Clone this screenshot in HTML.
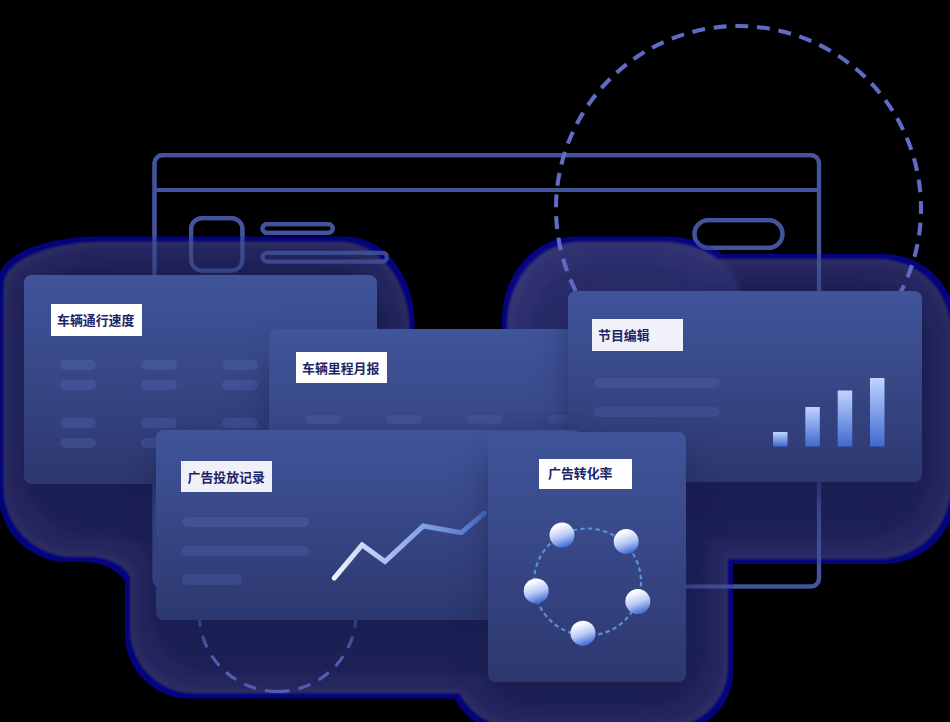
<!DOCTYPE html>
<html lang="zh"><head><meta charset="utf-8"><title>illustration</title>
<style>
html,body{margin:0;padding:0;background:#000;}
body{width:950px;height:722px;position:relative;overflow:hidden;font-family:"Liberation Sans","Noto Sans CJK SC",sans-serif;}
.abs,.card,.lab,.p,svg.layer{position:absolute;}
svg.layer{left:0;top:0;width:950px;height:722px;overflow:hidden;}
.card{border-radius:8px;background:linear-gradient(180deg,#40549a 0%,#3a4b8c 35%,#2c376e 100%);}
.lab{overflow:hidden;}
.lab svg.gl{position:absolute;left:0;top:0;}
.lab svg.gl text{font-family:"Liberation Sans","Noto Sans CJK SC",sans-serif;font-size:12.9px;font-weight:bold;fill:#1d2468;}
.p{display:block;border-radius:6px;}
</style></head><body>

<!-- browser outline -->
<svg class="layer" viewBox="0 0 950 722">
<g id="ol" fill="none" stroke="#44549a" stroke-width="4.2">
<rect x="154.5" y="155.1" width="664.5" height="431.4" rx="8"/>
<path d="M154.5 190H819"/>
<rect x="191.1" y="218.1" width="51.3" height="52.5" rx="11"/>
<rect x="262.5" y="224.1" width="70.3" height="8.8" rx="4.4"/>
<rect x="262.6" y="252.9" width="124.3" height="8.7" rx="4.35"/>
<rect x="694.5" y="220.1" width="88" height="27.7" rx="13.85"/>
</g></svg>

<!-- shadows -->
<svg class="layer" viewBox="0 0 950 722">
<defs><clipPath id="cpa"><rect x="480" y="200" width="300" height="129"/></clipPath><filter id="sb4" x="-10%" y="-10%" width="120%" height="120%"><feGaussianBlur stdDeviation="2.5"/></filter><filter id="shf" filterUnits="userSpaceOnUse" x="-60" y="-60" width="1070" height="842" color-interpolation-filters="sRGB">
<feMorphology in="SourceAlpha" operator="erode" radius="4.5" result="e1"/>
<feMorphology in="SourceAlpha" operator="erode" radius="10" result="e2"/>
<feMorphology in="SourceAlpha" operator="erode" radius="24" result="e3"/>
<feGaussianBlur in="SourceAlpha" stdDeviation="0.6" result="e0b"/>
<feGaussianBlur in="e1" stdDeviation="0.8" result="e1b"/>
<feGaussianBlur in="e2" stdDeviation="3" result="e2b"/>
<feGaussianBlur in="e3" stdDeviation="6" result="e3b"/>
<feFlood flood-color="#050586"/><feComposite in2="e0b" operator="in" result="c0"/>
<feFlood flood-color="#31316a"/><feComposite in2="e1b" operator="in" result="c1"/>
<feFlood flood-color="#292a66"/><feComposite in2="e2b" operator="in" result="c2"/>
<feFlood flood-color="#1f235b"/><feComposite in2="e3b" operator="in" result="c3"/>
<feMerge><feMergeNode in="c0"/><feMergeNode in="c1"/><feMergeNode in="c2"/><feMergeNode in="c3"/></feMerge>
</filter></defs>
<g opacity="0.95" filter="url(#shf)" fill="#000">
<path d="M98.5 236.5H345.5A69 87 0 0 1 414.5 323.5V502A60 60 0 0 1 354.5 562H67.5A69 69 0 0 1 -1.5 493V279.5A100 43 0 0 1 98.5 236.5Z M185 400H470A60 60 0 0 1 530 460V638.5A60 60 0 0 1 470 698.5H189A64 64 0 0 1 125 634.5V460A60 60 0 0 1 185 400Z M508.5 400H673A60 60 0 0 1 733 460V672A60 60 0 0 1 673 732H508.5A60 60 0 0 1 448.5 672V460A60 60 0 0 1 508.5 400Z M576 236.5H666A80 60 0 0 1 746 296.5V504A60 60 0 0 1 686 564H562A60 60 0 0 1 502 504V319.5A74 83 0 0 1 576 236.5Z M700 254H884A72 72 0 0 1 956 326V492A72 72 0 0 1 884 564H700A60 60 0 0 1 640 504V314A60 60 0 0 1 700 254Z M88 555L130 555L130 596Q125 566 88 562Z"/>
</g>
<g clip-path="url(#cpa)"><path d="M576 242.5H666A74 54 0 0 1 740 296.5V504A54 54 0 0 1 686 558H562A54 54 0 0 1 508 504V319.5A68 77 0 0 1 576 242.5Z" fill="#6464c8" opacity=".17" filter="url(#sb4)"/></g>
</svg>

<!-- browser outline (over shadows, slightly dimmed) -->
<svg class="layer" viewBox="0 0 950 722"><use href="#ol" opacity="0.85"/></svg>

<!-- dashed circles -->
<svg class="layer" viewBox="0 0 950 722" fill="none">
<path d="M738.5 391A182.5 182.5 0 1 1 738.5 26A182.5 182.5 0 1 1 738.5 391" stroke="#5f6bc4" stroke-width="4.1" stroke-dasharray="12.9 8.81" stroke-dashoffset="-5.5"/>
<path d="M277.6 691.5A78.5 78.5 0 1 1 277.6 534.5A78.5 78.5 0 1 1 277.6 691.5" stroke="#525eb2" stroke-width="3.2" stroke-dasharray="12.55 9.3"/>
</svg>

<!-- card 1 -->
<div class="card" style="left:24px;top:275px;width:353px;height:209px;box-shadow:0 8px 40px rgba(25,29,78,.62)"></div>
<i class="p" style="left:60px;top:360px;width:36px;height:10px;background:rgba(125,150,245,0.16)"></i><i class="p" style="left:60px;top:380px;width:36px;height:10px;background:rgba(125,150,245,0.16)"></i><i class="p" style="left:60px;top:418px;width:36px;height:10px;background:rgba(125,150,245,0.16)"></i><i class="p" style="left:60px;top:438px;width:36px;height:10px;background:rgba(125,150,245,0.16)"></i><i class="p" style="left:141px;top:360px;width:36px;height:10px;background:rgba(125,150,245,0.16)"></i><i class="p" style="left:141px;top:380px;width:36px;height:10px;background:rgba(125,150,245,0.16)"></i><i class="p" style="left:141px;top:418px;width:36px;height:10px;background:rgba(125,150,245,0.16)"></i><i class="p" style="left:141px;top:438px;width:36px;height:10px;background:rgba(125,150,245,0.16)"></i><i class="p" style="left:222px;top:360px;width:36px;height:10px;background:rgba(125,150,245,0.16)"></i><i class="p" style="left:222px;top:380px;width:36px;height:10px;background:rgba(125,150,245,0.16)"></i><i class="p" style="left:222px;top:418px;width:36px;height:10px;background:rgba(125,150,245,0.16)"></i><i class="p" style="left:222px;top:438px;width:36px;height:10px;background:rgba(125,150,245,0.16)"></i><i class="p" style="left:303px;top:360px;width:36px;height:10px;background:rgba(125,150,245,0.16)"></i><i class="p" style="left:303px;top:380px;width:36px;height:10px;background:rgba(125,150,245,0.16)"></i><i class="p" style="left:303px;top:418px;width:36px;height:10px;background:rgba(125,150,245,0.16)"></i><i class="p" style="left:303px;top:438px;width:36px;height:10px;background:rgba(125,150,245,0.16)"></i>
<div class="lab" style="left:51px;top:304px;width:91px;height:32px;background:#ffffff"><svg class="gl" width="91" height="32" viewBox="0 0 91 32"><text x="6" y="21.2">车辆通行速度</text></svg></div>
<!-- card 2 -->
<div class="card" style="left:269px;top:328.5px;width:400px;height:205px;box-shadow:0 26px 36px -8px rgba(25,29,78,.72)"></div>
<i class="p" style="left:305px;top:414.5px;width:36px;height:9.5px;background:rgba(125,150,245,0.13)"></i><i class="p" style="left:386px;top:414.5px;width:36px;height:9.5px;background:rgba(125,150,245,0.13)"></i><i class="p" style="left:467px;top:414.5px;width:36px;height:9.5px;background:rgba(125,150,245,0.13)"></i><i class="p" style="left:548px;top:414.5px;width:36px;height:9.5px;background:rgba(125,150,245,0.13)"></i>
<div class="lab" style="left:296px;top:352px;width:91px;height:31px;background:#ffffff"><svg class="gl" width="91" height="31" viewBox="0 0 91 31"><text x="6" y="21.1">车辆里程月报</text></svg></div>
<!-- card 4 -->
<div class="card" style="left:567.5px;top:291.3px;width:354px;height:191px;box-shadow:0 18px 36px -6px rgba(25,29,78,.72)"></div>
<i class="p" style="left:594px;top:377.5px;width:126px;height:10.5px;background:rgba(125,150,245,0.13)"></i><i class="p" style="left:594px;top:406.5px;width:126px;height:10.5px;background:rgba(125,150,245,0.13)"></i>
<div class="lab" style="left:592px;top:319px;width:91px;height:32px;background:#f1f2f9"><svg class="gl" width="91" height="32" viewBox="0 0 91 32"><text x="6" y="21.2">节目编辑</text></svg></div>
<svg class="layer" viewBox="0 0 950 722">
<defs><linearGradient id="bg" x1="0" y1="0" x2="0" y2="1"><stop offset="0" stop-color="#c0d4ff"/><stop offset="1" stop-color="#3e69d0"/></linearGradient></defs>
<g fill="url(#bg)">
<rect x="773" y="432" width="14.5" height="14.5"/>
<rect x="805.3" y="407" width="14.5" height="39.5"/>
<rect x="837.7" y="390.5" width="14.5" height="56"/>
<rect x="870" y="378" width="14.5" height="68.5"/>
</g></svg>
<!-- card 3 -->
<div class="card" style="left:155.5px;top:430px;width:425px;height:190px;box-shadow:0 18px 36px -6px rgba(25,29,78,.72)"></div>
<i class="p" style="left:182px;top:516.7px;width:127px;height:10.5px;background:rgba(125,150,245,0.15)"></i><i class="p" style="left:182px;top:545.5px;width:127px;height:10.5px;background:rgba(125,150,245,0.15)"></i><i class="p" style="left:182px;top:574.3px;width:60px;height:10.5px;background:rgba(125,150,245,0.15)"></i>
<div class="lab" style="left:181px;top:461px;width:91px;height:31px;background:#eff0f8"><svg class="gl" width="91" height="31" viewBox="0 0 91 31"><text x="6.5" y="20.9">广告投放记录</text></svg></div>
<svg class="layer" viewBox="0 0 950 722">
<defs><linearGradient id="lg" gradientUnits="userSpaceOnUse" x1="334" y1="0" x2="486" y2="0"><stop offset="0" stop-color="#eef2ff"/><stop offset=".5" stop-color="#8eabea"/><stop offset="1" stop-color="#4a70c8"/></linearGradient></defs>
<polyline points="334.2,578.1 362.1,545 385,561.6 423.3,526 461.2,532.6 484.5,513.1" fill="none" stroke="url(#lg)" stroke-width="5" stroke-linecap="round" stroke-linejoin="miter"/>
</svg>
<!-- card 5 -->
<div class="card" style="left:488px;top:432px;width:198px;height:250px;box-shadow:0 18px 36px -6px rgba(25,29,78,.72)"></div>
<div class="lab" style="left:539px;top:459px;width:93px;height:30px;background:#ffffff"><svg class="gl" width="93" height="30" viewBox="0 0 93 30"><text x="9" y="18.5">广告转化率</text></svg></div>
<svg class="layer" viewBox="0 0 950 722">
<defs><linearGradient id="ball" x1="0.33" y1="0.02" x2="0.67" y2="0.98"><stop offset="0" stop-color="#ffffff"/><stop offset=".12" stop-color="#fbfcff"/><stop offset=".55" stop-color="#b7c8f4"/><stop offset="1" stop-color="#3965d6"/></linearGradient></defs>
<circle cx="587.5" cy="582" r="53.5" fill="none" stroke="#5a90d8" stroke-width="2.2" stroke-dasharray="4.4 3.24"/>
<g fill="url(#ball)">
<circle cx="562" cy="535.1" r="12.5"/><circle cx="626.2" cy="541.5" r="12.5"/><circle cx="637.8" cy="601.6" r="12.5"/><circle cx="583" cy="633.2" r="12.5"/><circle cx="536.2" cy="590.9" r="12.5"/>
</g></svg>
</body></html>
